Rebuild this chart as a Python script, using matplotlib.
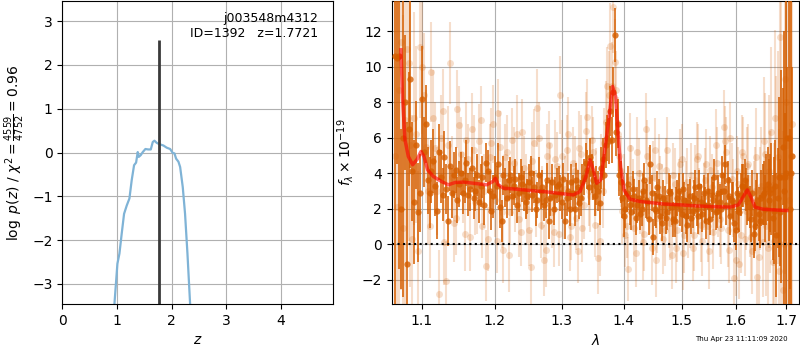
import matplotlib
matplotlib.use('Agg')
import matplotlib.pyplot as plt
from matplotlib.ticker import FixedLocator, FixedFormatter, NullLocator
import numpy as np

# ---- p(z) panel data ----
pz_z = [0.953, 1.008, 1.045, 1.087, 1.130, 1.179, 1.228, 1.270, 1.313, 1.350,
        1.380, 1.399, 1.435, 1.472, 1.521, 1.570, 1.619, 1.655, 1.686, 1.728,
        1.777, 1.850, 1.911, 1.973, 2.021, 2.052, 2.082, 2.125, 2.156, 2.204,
        2.246, 2.290, 2.339]
pz_logp = [-3.47, -2.54, -2.31, -1.85, -1.40, -1.21, -1.05, -0.63, -0.29, -0.23,
           0.01, -0.10, -0.06, 0.01, 0.08, 0.07, 0.07, 0.24, 0.27, 0.22,
           0.19, 0.16, 0.11, 0.08, -0.01, -0.02, -0.14, -0.21, -0.33, -0.79,
           -1.40, -2.31, -3.47]
z_best = 1.7721
z_peak_height = 2.56

# ---- spectrum: model ----
model_wave = [1.0727, 1.0749, 1.0779, 1.0822, 1.0878, 1.0939, 1.0987, 1.1026, 1.1075, 1.1150,
              1.1262, 1.1352, 1.1443, 1.1557, 1.1696, 1.1884, 1.1970, 1.2008, 1.2051, 1.2123,
              1.2318, 1.2516, 1.2767, 1.3024, 1.3181, 1.3287, 1.3382, 1.3446, 1.3500, 1.3554,
              1.3619, 1.3673, 1.3744, 1.3815, 1.3865, 1.3904, 1.3948, 1.4003, 1.4104, 1.4275,
              1.4679, 1.4973, 1.5274, 1.5581, 1.5895, 1.6055, 1.6151, 1.6228, 1.6293, 1.6377,
              1.6542, 1.7010]
model_flux = [10.96, 8.14, 5.89, 4.95, 4.48, 4.80, 5.23, 4.95, 4.19, 3.82,
              3.53, 3.35, 3.48, 3.50, 3.44, 3.35, 3.53, 3.72, 3.35, 3.16,
              3.10, 3.03, 2.95, 2.84, 2.78, 2.97, 3.82, 4.76, 4.19, 3.44,
              3.63, 4.95, 6.83, 8.90, 8.33, 6.26, 4.38, 3.06, 2.54, 2.41,
              2.27, 2.22, 2.16, 2.12, 2.09, 2.22, 2.69, 3.06, 2.69, 2.09,
              1.97, 1.90]

# ---- wavelength grids of the two spectra samplings ----
wave_a = [1.065, 1.070, 1.075, 1.080, 1.085, 1.090, 1.095, 1.100, 1.105, 1.110,
          1.115, 1.120, 1.125, 1.130, 1.135, 1.140, 1.145, 1.150, 1.155, 1.160,
          1.165, 1.170, 1.175, 1.180, 1.185, 1.190, 1.195, 1.200, 1.205, 1.210,
          1.215, 1.220, 1.225, 1.230, 1.235, 1.240, 1.245, 1.250, 1.255, 1.260,
          1.265, 1.270, 1.275, 1.280, 1.285, 1.290, 1.295, 1.300, 1.305, 1.310,
          1.315, 1.320, 1.325, 1.330, 1.335, 1.340, 1.345, 1.350, 1.355, 1.360,
          1.365, 1.370, 1.375, 1.380, 1.385, 1.390, 1.395, 1.400, 1.405, 1.410,
          1.415, 1.420, 1.425, 1.430, 1.435, 1.440, 1.445, 1.450, 1.455, 1.460,
          1.465, 1.470, 1.475, 1.480, 1.485, 1.490, 1.495, 1.500, 1.505, 1.510,
          1.515, 1.520, 1.525, 1.530, 1.535, 1.540, 1.545, 1.550, 1.555, 1.560,
          1.565, 1.570, 1.575, 1.580, 1.585, 1.590, 1.595, 1.600, 1.605, 1.610,
          1.615, 1.620, 1.625, 1.630, 1.635, 1.640, 1.645, 1.650, 1.655, 1.660,
          1.665, 1.670, 1.675, 1.680, 1.685, 1.690, 1.695, 1.700, 1.705, 1.710]
wave_b = [1.0675, 1.0725, 1.0775, 1.0825, 1.0875, 1.0925, 1.0975, 1.1025, 1.1075, 1.1125,
          1.1175, 1.1225, 1.1275, 1.1325, 1.1375, 1.1425, 1.1475, 1.1525, 1.1575, 1.1625,
          1.1675, 1.1725, 1.1775, 1.1825, 1.1875, 1.1925, 1.1975, 1.2025, 1.2075, 1.2125,
          1.2175, 1.2225, 1.2275, 1.2325, 1.2375, 1.2425, 1.2475, 1.2525, 1.2575, 1.2625,
          1.2675, 1.2725, 1.2775, 1.2825, 1.2875, 1.2925, 1.2975, 1.3025, 1.3075, 1.3125,
          1.3175, 1.3225, 1.3275, 1.3325, 1.3375, 1.3425, 1.3475, 1.3525, 1.3575, 1.3625,
          1.3675, 1.3725, 1.3775, 1.3825, 1.3875, 1.3925, 1.3975, 1.4025, 1.4075, 1.4125,
          1.4175, 1.4225, 1.4275, 1.4325, 1.4375, 1.4425, 1.4475, 1.4525, 1.4575, 1.4625,
          1.4675, 1.4725, 1.4775, 1.4825, 1.4875, 1.4925, 1.4975, 1.5025, 1.5075, 1.5125,
          1.5175, 1.5225, 1.5275, 1.5325, 1.5375, 1.5425, 1.5475, 1.5525, 1.5575, 1.5625,
          1.5675, 1.5725, 1.5775, 1.5825, 1.5875, 1.5925, 1.5975, 1.6025, 1.6075, 1.6125,
          1.6175, 1.6225, 1.6275, 1.6325, 1.6375, 1.6425, 1.6475, 1.6525, 1.6575, 1.6625,
          1.6675, 1.6725, 1.6775, 1.6825, 1.6875, 1.6925, 1.6975, 1.7025, 1.7075, 1.7125]

# ---- binned (dark) points, on wave_a and wave_b ----
dark_flux_a = [10.6, 10.6, 6.0, -1.1, 9.3, 2.4, 1.8, 8.2, 6.8, 2.9,
               4.7, 1.9, 3.8, 4.9, 1.3, 2.9, 4.2, 3.4, 2.9, 4.6,
               3.1, 2.6, 3.9, 3.3, 2.2, 4.1, 1.9, 3.8, 4.5, 1.3,
               3.2, 3.6, 2.7, 3.7, 2.9, 3.4, 2.4, 3.5, 2.8, 2.0,
               3.9, 3.2, 2.5, 1.3, 3.5, 2.8, 3.4, 2.4, 1.3, 3.0,
               3.5, 2.0, 3.2, 2.6, 3.8, 4.2, 4.9, 3.6, 3.3, 2.3,
               4.8, 5.6, 5.8, 5.9, 11.8, 6.8, 3.5, 1.6, 2.9, 2.2,
               3.1, 1.5, 2.6, 2.0, 3.6, 2.4, 4.5, 0.4, 1.9, 2.7,
               1.2, 2.3, 1.8, 2.9, 1.4, 2.2, 3.0, 1.7, 2.5, 1.1,
               2.7, 1.9, 3.2, 1.6, 2.4, 2.9, 1.3, 2.1, 2.8, 3.8,
               1.9, 2.4, 3.9, 4.5, 3.6, 1.6, 2.4, 0.8, 2.0, 2.8,
               3.3, 3.1, 2.6, 1.4, 0.6, 2.2, 1.7, 2.6, 2.9, 3.1,
               2.5, 3.1, 1.9, 0.5, 3.8, 3.8, 3.0, 4.0, 6.0, 4.0]
dark_err_a = [14, 12, 9, 8, 5, 3.5, 2.8, 3.0, 2.2, 2.0,
              1.8, 1.6, 1.5, 1.5, 1.4, 1.4, 1.3, 1.3, 1.2, 1.3,
              1.2, 1.2, 1.2, 1.2, 1.1, 1.2, 1.1, 1.2, 1.2, 1.2,
              1.1, 1.1, 1.1, 1.1, 1.1, 1.0, 1.0, 1.0, 1.0, 1.0,
              1.0, 1.0, 1.0, 1.0, 1.0, 1.0, 1.0, 1.0, 1.0, 1.0,
              1.0, 1.0, 1.0, 1.0, 1.0, 1.1, 1.1, 1.1, 1.1, 1.2,
              1.2, 1.3, 1.3, 1.3, 1.5, 1.4, 1.2, 1.2, 1.1, 1.1,
              1.0, 1.0, 1.0, 1.0, 1.0, 1.0, 1.1, 1.0, 1.0, 1.0,
              1.0, 1.0, 1.0, 1.0, 1.0, 1.0, 1.0, 1.0, 1.0, 1.0,
              1.0, 1.0, 1.0, 1.0, 1.0, 1.0, 1.0, 1.0, 1.0, 1.0,
              1.0, 1.0, 1.1, 1.1, 1.1, 1.1, 1.1, 1.1, 1.2, 1.2,
              1.2, 1.2, 1.3, 1.3, 1.4, 1.4, 1.5, 1.6, 1.8, 2.0,
              2.3, 2.6, 3.0, 3.5, 4.5, 6.0, 9.0, 14, 16, 20]
dark_flux_b = [10.5, 2.0, 8.0, 6.5, 4.1, 5.6, 2.9, 5.2, 3.6, 4.1,
               3.3, 5.2, 2.8, 3.1, 4.4, 3.9, 2.5, 4.0, 3.6, 2.8,
               4.3, 3.0, 2.4, 3.8, 4.6, 3.0, 2.7, 3.3, 2.1, 3.9,
               2.6, 3.9, 3.3, 2.2, 3.8, 3.0, 2.7, 4.0, 3.2, 2.5,
               3.0, 2.2, 3.6, 2.6, 2.0, 3.3, 2.9, 3.7, 2.6, 2.0,
               2.9, 3.6, 2.3, 3.5, 4.6, 3.2, 4.0, 2.7, 3.0, 4.3,
               3.9, 6.0, 7.5, 8.6, 6.3, 3.9, 2.6, 2.0, 3.4, 1.8,
               2.7, 2.2, 1.7, 3.0, 2.5, 1.4, 2.9, 2.0, 3.2, 1.6,
               2.6, 1.5, 3.0, 2.1, 1.3, 2.6, 2.0, 3.1, 1.6, 2.4,
               1.5, 2.6, 2.0, 3.3, 1.7, 2.2, 3.0, 1.4, 2.5, 1.8,
               2.9, 2.0, 3.0, 2.2, 2.7, 2.5, 1.2, 2.9, 1.8, 3.3,
               3.6, 2.4, 2.1, 2.9, 1.0, 2.5, 1.3, 2.8, 2.0, 3.4,
               2.9, 1.5, 3.3, 2.6, 1.8, 5.5, 3.8, 6.0, 2.0, 5.0]
dark_err_b = [6.0, 4.5, 3.8, 3.2, 2.8, 2.5, 2.2, 2.0, 1.9, 1.8,
              1.7, 1.6, 1.5, 1.4, 1.4, 1.3, 1.3, 1.2, 1.3, 1.2,
              1.2, 1.1, 1.2, 1.2, 1.1, 1.1, 1.2, 1.1, 1.2, 1.1,
              1.1, 1.0, 1.1, 1.0, 1.0, 1.1, 1.0, 1.0, 0.9, 1.0,
              1.0, 0.9, 1.0, 1.0, 0.9, 1.0, 1.0, 0.9, 1.0, 1.0,
              1.0, 1.0, 0.9, 1.0, 1.1, 1.0, 1.1, 1.1, 1.1, 1.2,
              1.2, 1.3, 1.4, 1.4, 1.3, 1.2, 1.1, 1.1, 1.0, 1.0,
              1.0, 1.0, 0.9, 1.0, 1.0, 0.9, 1.0, 1.0, 0.9, 1.0,
              1.0, 0.9, 1.0, 1.0, 0.9, 1.0, 1.0, 0.9, 1.0, 1.0,
              0.9, 1.0, 1.0, 0.9, 1.0, 1.0, 1.0, 0.9, 1.0, 1.0,
              1.0, 1.1, 1.0, 1.1, 1.1, 1.0, 1.1, 1.2, 1.1, 1.2,
              1.2, 1.3, 1.2, 1.3, 1.4, 1.5, 1.5, 1.7, 1.9, 2.1,
              2.2, 2.4, 2.6, 2.8, 3.0, 3.3, 3.6, 4.0, 4.5, 5.0]

# ---- unbinned (light) points, on wave_b and wave_a ----
light_flux_b = [2.1, 11.4, 7.0, 10.2, 0.3, 6.2, 11.1, 8.4, 3.0, 9.7,
                5.4, -2.8, 7.5, -2.1, 10.2, 1.2, 7.6, 5.1, 0.6, 4.8,
                6.5, 2.4, 5.8, 1.0, -1.2, 4.9, 6.8, 0.2, 5.5, -0.3,
                5.2, 1.8, 4.6, 6.2, 0.7, 4.3, 2.0, -1.3, 5.7, 7.7,
                1.1, -0.9, 5.0, 3.6, 0.7, 4.4, 8.4, 2.1, 5.3, 0.4,
                4.6, 1.5, 5.4, 0.9, 6.4, 3.0, 5.9, 1.1, -0.8, 4.1,
                5.7, 8.9, 11.2, 13.4, 8.7, 5.0, 1.9, 0.5, -1.4, 3.7,
                0.9, 5.2, 2.4, 0.1, 6.5, 3.6, -0.2, 5.3, 1.5, 3.1,
                0.3, 4.2, 1.9, -0.6, 3.4, 0.8, 4.5, -0.5, 2.8, 1.2,
                3.9, 0.5, 4.8, 2.4, 0.2, 3.6, 1.0, 4.2, 0.7, 5.6,
                2.3, 0.9, 6.6, 5.2, -0.3, 3.7, -1.9, 4.1, -1.1, 5.2,
                0.3, 4.4, 1.6, -0.4, 3.0, -1.85, 2.6, 0.1, 5.1, -0.2,
                2.4, -1.0, 7.1, 4.9, 11.7, -2.6, 9.3, 5.6, 3.8, 6.8]
light_err_b = [16, 14, 12, 10, 7, 5, 4, 3.5, 3.0, 2.8,
               2.6, 2.5, 2.4, 2.3, 2.3, 2.2, 2.2, 2.1, 2.1, 2.0,
               2.0, 1.9, 2.1, 1.8, 2.0, 1.9, 2.2, 1.8, 2.0, 1.9,
               2.1, 1.8, 2.0, 2.2, 1.9, 1.8, 2.0, 2.1, 1.9, 2.2,
               1.9, 2.0, 1.8, 2.1, 2.0, 1.9, 2.2, 1.8, 2.0, 1.9,
               2.0, 1.8, 2.1, 1.9, 2.2, 2.0, 1.9, 1.8, 2.0, 2.1,
               2.0, 2.2, 2.4, 2.6, 2.2, 2.0, 1.9, 1.8, 1.8, 1.9,
               1.9, 2.0, 1.8, 2.1, 2.0, 1.9, 2.1, 1.8, 2.0, 1.9,
               2.0, 1.8, 2.1, 1.9, 2.0, 1.8, 2.0, 2.1, 1.9, 2.0,
               1.8, 2.0, 2.1, 1.9, 2.0, 1.8, 2.0, 1.9, 2.1, 2.0,
               1.9, 2.0, 2.1, 2.0, 1.9, 2.0, 2.1, 2.0, 2.0, 2.1,
               2.1, 2.2, 2.3, 2.4, 2.5, 2.7, 2.9, 3.1, 3.4, 3.7,
               4.0, 4.5, 5.0, 6.0, 7.5, 9.0, 11, 14, 16, 18]
light_flux_a = [5.0, 8.7, 0.9, 11.0, 5.6, 7.1, -0.4, 10.0, 5.5, 1.0,
                7.1, 3.0, 6.0, 0.1, 5.6, 3.8, 1.5, 6.7, 3.2, 5.9,
                0.4, 5.3, 2.8, 7.0, 3.0, 0.3, 5.7, 2.5, 7.4, 1.8,
                4.9, -0.6, 5.9, 2.7, 1.4, 6.3, 3.3, 0.8, 4.7, 2.3,
                6.0, 2.6, -0.3, 5.6, 1.8, 4.8, 0.6, 5.0, 3.1, 6.2,
                1.0, 4.1, -0.4, 5.1, 2.2, 7.2, 2.7, 5.2, 3.5, 0.2,
                3.0, 6.9, 8.4, 8.9, 10.3, 6.2, 4.1, 3.2, 1.0, 5.4,
                2.8, -0.5, 4.0, 1.8, 0.6, 5.0, 2.5, 3.8, -0.9, 4.4,
                2.6, 0.8, 5.3, 1.2, 3.9, -0.2, 2.9, 4.8, 0.5, 3.5,
                1.8, -0.2, 3.6, 5.0, 1.1, 2.7, 4.5, -0.4, 3.2, 2.0,
                4.6, 1.4, 3.0, 5.8, 0.8, 6.0, 2.6, -0.9, 3.4, 0.5,
                5.0, 1.9, 4.5, 0.4, 2.1, 4.9, -0.7, 3.3, 5.8, 1.0,
                4.1, 6.3, 0.2, 3.0, -1.5, 5.8, 0.0, 8.0, 2.5, 5.0]
light_err_a = [17, 15, 12, 11, 8, 6, 4.5, 3.8, 3.2, 2.9,
               2.7, 2.5, 2.4, 2.4, 2.2, 2.3, 2.1, 2.2, 2.0, 2.1,
               1.9, 2.0, 2.2, 1.9, 2.1, 1.8, 2.0, 2.1, 1.9, 2.0,
               1.9, 2.1, 1.8, 2.0, 2.1, 1.9, 1.8, 2.0, 2.2, 1.9,
               2.0, 1.8, 2.1, 1.9, 2.0, 2.2, 1.8, 2.0, 1.9, 2.1,
               1.9, 2.0, 1.8, 2.2, 1.9, 2.1, 2.0, 2.0, 1.9, 2.0,
               2.1, 2.3, 2.5, 2.5, 2.4, 2.1, 2.0, 1.9, 1.8, 2.0,
               2.0, 1.9, 2.0, 1.8, 2.1, 2.0, 1.9, 2.0, 2.1, 1.8,
               1.9, 2.0, 1.9, 2.1, 1.8, 2.0, 1.9, 2.0, 2.1, 1.9,
               2.0, 1.9, 2.0, 1.8, 2.1, 1.9, 2.0, 2.1, 1.9, 2.0,
               2.0, 2.1, 1.9, 2.0, 2.1, 2.0, 2.2, 2.0, 2.1, 2.1,
               2.2, 2.2, 2.3, 2.5, 2.6, 2.8, 3.0, 3.3, 3.6, 3.9,
               4.3, 4.8, 5.5, 6.5, 8.0, 10, 12, 15, 17, 19]

wave_ticks = [1.1, 1.2, 1.3, 1.4, 1.5, 1.6, 1.7]
grism_color = (0.8352941176470589, 0.3686274509803922, 0.0)

fig = plt.figure(figsize=(8, 3.5), dpi=100)
ax_pz = fig.add_axes([0.0779, 0.1314, 0.3388, 0.8657])
ax_sp = fig.add_axes([0.4896, 0.1314, 0.5095, 0.8657])

# --- left: p(z)
ax_pz.plot(pz_z, pz_logp, color='#7fb3d6', lw=1.6)
ax_pz.vlines(z_best, -3.46, z_peak_height, color='#3a3a3a', lw=2)
ax_pz.set_xlim(0, 4.96)
ax_pz.set_ylim(-3.46, 3.46)
ax_pz.set_xticks([0, 1, 2, 3, 4])
ax_pz.set_yticks([-3, -2, -1, 0, 1, 2, 3])
ax_pz.grid(True)
ax_pz.set_xlabel('$z$')
ax_pz.set_ylabel(r'$\log\ p(z)$ / $\chi^2=\frac{4559}{4752}=0.96$')
ax_pz.text(0.945, 0.965, 'j003548m4312\nID=1392   z=1.7721',
           transform=ax_pz.transAxes, ha='right', va='top', fontsize=9)

# --- right: spectrum
for w, f, e in [(wave_b, light_flux_b, light_err_b), (wave_a, light_flux_a, light_err_a)]:
    ax_sp.errorbar(w, f, yerr=e, fmt='o', color=grism_color,
                   alpha=0.2, ms=5, mew=0, elinewidth=1.5, zorder=2)
for w, f, e in [(wave_a, dark_flux_a, dark_err_a), (wave_b, dark_flux_b, dark_err_b)]:
    ax_sp.errorbar(w, f, yerr=e, fmt='o', color=grism_color,
                   alpha=0.8, ms=4.5, mew=0, elinewidth=1.4, zorder=3)
ax_sp.plot(model_wave, model_flux, color='r', alpha=0.6, lw=2.5, zorder=4)
ax_sp.axhline(0, color='k', linestyle=':', lw=1.5, zorder=5)

ax_sp.set_xscale('log')
ax_sp.set_xlim(1.0609, 1.7267)
ax_sp.set_ylim(-3.37, 13.71)
ax_sp.xaxis.set_major_locator(FixedLocator(wave_ticks))
ax_sp.xaxis.set_major_formatter(FixedFormatter(['%.1f' % w for w in wave_ticks]))
ax_sp.xaxis.set_minor_locator(NullLocator())
ax_sp.set_yticks([-2, 0, 2, 4, 6, 8, 10, 12])
ax_sp.grid(True)
ax_sp.set_axisbelow(True)
ax_sp.set_xlabel(r'$\lambda$')
ax_sp.set_ylabel(r'$f_\lambda\times10^{-19}$')

fig.text(0.984, 0.03, 'Thu Apr 23 11:11:09 2020', ha='right', va='center', fontsize=5)

fig.savefig('out.png', dpi=100)
